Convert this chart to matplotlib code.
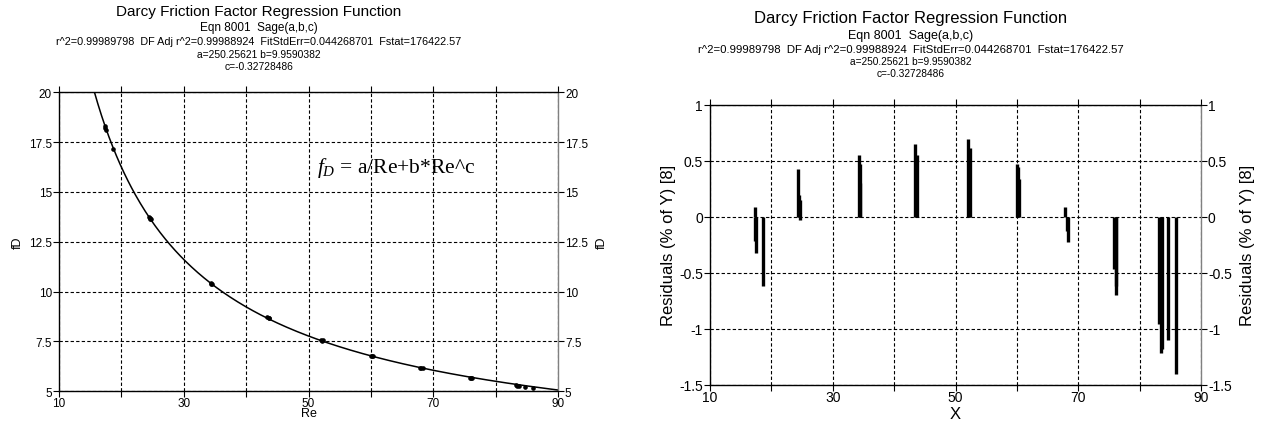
import numpy as np
import matplotlib
matplotlib.use("Agg")
import matplotlib.pyplot as plt

plt.rcParams['font.family'] = ['Liberation Sans', 'DejaVu Sans']
plt.rcParams['mathtext.fontset'] = 'custom'
plt.rcParams['mathtext.rm'] = 'Liberation Serif'
plt.rcParams['mathtext.it'] = 'Liberation Serif:italic'

# ---- data ----
re_data = [17.3, 17.4, 17.5, 18.6, 24.4, 24.55, 24.7, 24.65, 34.3, 34.5, 34.4,
           43.4, 43.7, 43.6, 52.0, 52.3, 52.2, 60.1, 60.4, 60.2, 67.9, 68.1, 68.3,
           75.9, 76.1, 76.2, 83.2, 83.5, 83.7, 84.7, 86.0]
fd_data = [18.31, 18.20, 18.12, 17.18, 13.76, 13.68, 13.62, 13.63, 10.44, 10.39, 10.40,
           8.71, 8.66, 8.66, 7.58, 7.55, 7.54, 6.79, 6.76, 6.78, 6.19, 6.17, 6.15,
           5.69, 5.67, 5.67, 5.30, 5.28, 5.27, 5.23, 5.16]
residuals = [0.09, -0.22, -0.32, -0.62, 0.43, 0.19, 0.15, -0.03, 0.55, 0.47, 0.30,
             0.65, 0.55, 0.30, 0.69, 0.61, 0.34, 0.47, 0.34, 0.44, 0.09, -0.13, -0.23,
             -0.47, -0.70, -0.62, -0.96, -1.22, -1.18, -1.10, -1.40]

# fitted parameters (from the chart header)
a_par = 250.25621
b_par = 9.9590382
c_par = -0.32728486

x_ticks = [10, 30, 50, 70, 90]
x_grid = [20, 40, 60, 80]
y_ticks_left = [5, 7.5, 10, 12.5, 15, 17.5, 20]
y_labels_left = ['5', '7.5', '10', '12.5', '15', '17.5', '20']
y_ticks_right = [-1.5, -1, -0.5, 0, 0.5, 1]
y_labels_right = ['-1.5', '-1', '-0.5', '0', '0.5', '1']

title = "Darcy Friction Factor Regression Function"
sub1 = "Eqn 8001  Sage(a,b,c)"
sub2 = "r^2=0.99989798  DF Adj r^2=0.99988924  FitStdErr=0.044268701  Fstat=176422.57"
sub3 = "a=250.25621 b=9.9590382"
sub4 = "c=-0.32728486"

W, H = 1263, 427
fig = plt.figure(figsize=(W / 100, H / 100), dpi=100)

def px_axes(x0, y0, x1, y1):
    return fig.add_axes([x0 / W, 1 - y1 / H, (x1 - x0) / W, (y1 - y0) / H])

def style(ax, yt, yl, fs):
    ax.set_xlim(10, 90)
    ax.set_xticks(x_ticks)
    ax.set_xticks(x_grid, minor=True)
    ax.set_xticklabels([str(t) for t in x_ticks], fontsize=fs)
    ax.set_yticks(yt)
    ax.set_yticklabels(yl, fontsize=fs)
    ax.tick_params(which='both', direction='out', length=4, width=0.8,
                   top=True, right=True, labelright=True, pad=1)
    ax.tick_params(axis='x', pad=0)
    ax.grid(True, which='both', color='black', linestyle=(0, (3, 2)), linewidth=0.8)
    for s in ['left', 'bottom', 'top']:
        ax.spines[s].set_color('black')
        ax.spines[s].set_linewidth(1.0)
    ax.spines['right'].set_color('#808080')
    ax.spines['right'].set_linewidth(1.0)
    ax.set_axisbelow(True)

# ---- left chart ----
ax1 = px_axes(59, 93.3, 558, 392.3)
style(ax1, y_ticks_left, y_labels_left, 8.5)
ax1.set_ylim(5, 20)
xx = np.linspace(10, 90, 400)
ax1.plot(xx, a_par / xx + b_par * xx ** c_par, color='black', linewidth=1.1)
ax1.plot(re_data, fd_data, 'o', color='black', markersize=2.3)
ax1.set_xlabel('Re', fontsize=9, labelpad=-1)
ax1.set_ylabel('fD', fontsize=9, labelpad=4)
ax1r = ax1.secondary_yaxis('right')
ax1r.set_yticks([])
ax1r.set_ylabel('fD', fontsize=9, labelpad=27)
ax1r.spines['right'].set_visible(False)
fig.text(317 / W, 1 - 168 / H, r'$f_D$' + ' = a/Re+b*Re^c',
         fontsize=15.5, family='Liberation Serif', va='center', ha='left')

fig.text(259 / W, 1 - 12 / H, title, ha='center', va='center', fontsize=11)
fig.text(259 / W, 1 - 28 / H, sub1, ha='center', va='center', fontsize=8.5)
fig.text(259 / W, 1 - 42 / H, sub2, ha='center', va='center', fontsize=7.8)
fig.text(259 / W, 1 - 55 / H, sub3, ha='center', va='center', fontsize=7.4)
fig.text(259 / W, 1 - 67 / H, sub4, ha='center', va='center', fontsize=7.4)

# ---- right chart ----
ax2 = px_axes(710, 105.7, 1201, 385.7)
style(ax2, y_ticks_right, y_labels_right, 10)
ax2.set_ylim(-1.5, 1)
ax2.vlines(re_data, 0, residuals, color='black', linewidth=2.4)
ax2.set_xlabel('X', fontsize=12, labelpad=1)
ax2.set_ylabel('Residuals (% of Y) [8]', fontsize=12, labelpad=2)
ax2r = ax2.secondary_yaxis('right')
ax2r.set_yticks([])
ax2r.spines['right'].set_visible(False)
ax2r.set_ylabel('Residuals (% of Y) [8]', fontsize=12, labelpad=28)

fig.text(911 / W, 1 - 19 / H, title, ha='center', va='center', fontsize=12)
fig.text(911 / W, 1 - 36 / H, sub1, ha='center', va='center', fontsize=9)
fig.text(911 / W, 1 - 50 / H, sub2, ha='center', va='center', fontsize=8.2)
fig.text(911 / W, 1 - 62 / H, sub3, ha='center', va='center', fontsize=7.3)
fig.text(911 / W, 1 - 74 / H, sub4, ha='center', va='center', fontsize=7.3)

fig.savefig('out.png', dpi=100)
